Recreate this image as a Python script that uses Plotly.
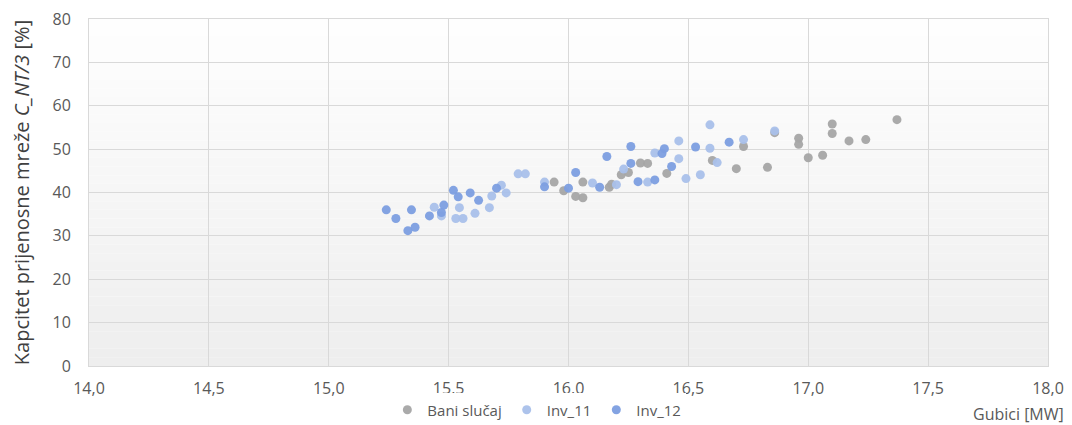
import plotly.graph_objects as go

# Gubici [MW] vs. kapacitet [%]
bani_x = [15.94, 15.98, 16.03, 16.06, 16.06, 16.17, 16.18, 16.22, 16.25, 16.30, 16.33, 16.41, 16.60,
          16.70, 16.73, 16.83, 16.86, 16.96, 16.96, 17.00, 17.06, 17.10, 17.10, 17.17, 17.24, 17.37]
bani_y = [42.4, 40.4, 39.1, 38.8, 42.4, 41.2, 41.9, 44.1, 44.6, 46.8, 46.7, 44.4, 47.4,
          45.5, 50.6, 45.8, 53.8, 52.5, 51.1, 48.0, 48.6, 55.8, 53.6, 51.9, 52.2, 56.8]

inv11_x = [15.44, 15.47, 15.53, 15.545, 15.56, 15.61, 15.67, 15.68, 15.72, 15.74, 15.79, 15.82, 15.90,
           16.10, 16.20, 16.23, 16.33, 16.36, 16.46, 16.46, 16.49, 16.55, 16.59, 16.59, 16.62, 16.73, 16.86]
inv11_y = [36.6, 34.6, 34.0, 36.5, 34.0, 35.2, 36.5, 39.2, 41.7, 39.9, 44.3, 44.3, 42.4,
           42.2, 41.8, 45.4, 42.4, 49.1, 51.9, 47.8, 43.2, 44.1, 50.2, 55.6, 46.9, 52.2, 54.2]

inv12_x = [15.24, 15.28, 15.33, 15.345, 15.36, 15.42, 15.47, 15.48, 15.52, 15.54, 15.59, 15.625, 15.70,
           15.90, 16.00, 16.03, 16.13, 16.16, 16.26, 16.26, 16.29, 16.36, 16.39, 16.40, 16.43, 16.53, 16.67]
inv12_y = [36.0, 34.0, 31.2, 36.0, 32.0, 34.6, 35.4, 37.1, 40.5, 39.0, 39.9, 38.2, 41.0,
           41.3, 41.0, 44.6, 41.2, 48.3, 50.6, 46.7, 42.5, 42.9, 49.0, 50.1, 46.0, 50.5, 51.6]

series = [
    ("Bani slučaj", bani_x, bani_y, "#a5a5a5"),
    ("Inv_11", inv11_x, inv11_y, "#a9c0ea"),
    ("Inv_12", inv12_x, inv12_y, "#7c9ee0"),
]

fig = go.Figure()
for name, xs, ys, color in series:
    fig.add_trace(go.Scatter(
        x=xs, y=ys, mode='markers', name=name,
        marker=dict(color=color, size=9, opacity=0.95, line=dict(width=0))
    ))

# light vertical gradient behind the grid, like the original
n_bands = 40
shapes = []
for i in range(n_bands):
    g = int(255 - (255 - 238) * (i + 0.5) / n_bands)
    shapes.append(dict(
        type='rect', xref='x domain', yref='y domain',
        x0=0, x1=1, y0=1 - (i + 1) / n_bands, y1=1 - i / n_bands,
        fillcolor=f'rgb({g},{g},{g})', line=dict(width=0), layer='below'
    ))

fam = 'Open Sans, Liberation Sans, sans-serif'
axis_font = dict(family=fam, size=16, color='#595959')

# page body has an 8px margin, so the figure is a bit smaller than the window
fig.update_layout(
    width=1064, height=417,
    margin=dict(l=81, r=24, t=11, b=59),
    paper_bgcolor='white', plot_bgcolor='white',
    separators=', ',
    shapes=shapes,
    font=axis_font,
    showlegend=True,
    legend=dict(orientation='h', x=0.467, xanchor='center', yref='container', y=0.036,
                yanchor='middle', font=dict(family=fam, size=15, color='#595959'),
                itemwidth=30, tracegroupgap=0),
    annotations=[dict(text='Gubici [MW]', xref='paper', yref='paper', x=1.019, y=-0.138,
                      xanchor='right', yanchor='middle', showarrow=False,
                      font=dict(family=fam, size=16, color='#595959'))],
)
fig.update_xaxes(range=[14, 18], dtick=0.5, tickformat='.1f', showgrid=True,
                 gridcolor='#d9d9d9', gridwidth=1, zeroline=False,
                 showline=True, mirror=True, linecolor='#d9d9d9', linewidth=1,
                 ticks='', tickfont=axis_font, automargin=False, ticklabelstandoff=8,
                 ticklabeloverflow='allow')
fig.update_yaxes(range=[0, 80], dtick=10, showgrid=True, gridcolor='#d9d9d9', gridwidth=1,
                 zeroline=False, showline=True, mirror=True, linecolor='#d9d9d9', linewidth=1,
                 ticks='', tickfont=axis_font, ticklabeloverflow='allow',
                 automargin=False, ticklabelstandoff=14,
                 title=dict(text='Kapcitet prijenosne mreže <i>C_NT/3</i> [%]', standoff=18,
                            font=dict(family=fam, size=20, color='#404040')))

fig.write_html("out.html")
